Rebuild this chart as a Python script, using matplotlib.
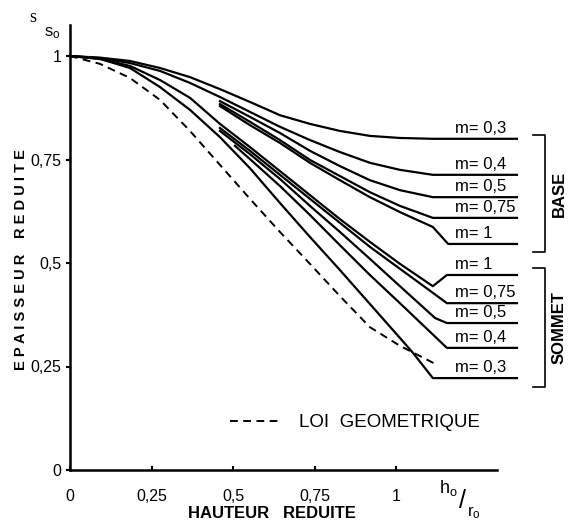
import matplotlib

matplotlib.use("Agg")
import matplotlib.pyplot as plt

plt.rcParams["font.family"] = ["Liberation Sans", "DejaVu Sans"]
plt.rcParams["mathtext.fontset"] = "custom"
plt.rcParams["mathtext.rm"] = "Liberation Sans"
plt.rcParams["mathtext.it"] = "Liberation Sans"

# courbes "BASE" (groupe du haut)
base_labels = ["m= 0,3", "m= 0,4", "m= 0,5", "m= 0,75", "m= 1"]
base_x = [
    [0, 0.092, 0.184, 0.276, 0.368, 0.460, 0.552, 0.644, 0.736, 0.828, 0.920, 1.012, 1.113],
    [0, 0.092, 0.184, 0.276, 0.368, 0.460, 0.552, 0.644, 0.736, 0.828, 0.920, 1.012, 1.113],
    [0.460, 0.552, 0.644, 0.736, 0.828, 0.920, 1.012, 1.113],
    [0.460, 0.552, 0.644, 0.736, 0.828, 0.920, 1.012, 1.113],
    [0.460, 0.552, 0.644, 0.736, 0.828, 0.920, 1.012, 1.113, 1.160],
]
base_y = [
    [1.0, 0.996, 0.988, 0.971, 0.949, 0.920, 0.889, 0.857, 0.836, 0.819, 0.807, 0.802, 0.800],
    [1.0, 0.995, 0.983, 0.964, 0.935, 0.901, 0.865, 0.829, 0.797, 0.768, 0.742, 0.725, 0.713],
    [0.891, 0.853, 0.814, 0.771, 0.734, 0.700, 0.676, 0.659],
    [0.884, 0.841, 0.797, 0.749, 0.710, 0.671, 0.638, 0.609],
    [0.879, 0.833, 0.790, 0.742, 0.700, 0.659, 0.623, 0.587, 0.546],
]

# courbes "SOMMET" (groupe du bas)
sommet_labels = ["m= 1", "m= 0,75", "m= 0,5", "m= 0,4", "m= 0,3"]
sommet_x = [
    [0, 0.092, 0.184, 0.276, 0.368, 0.460, 0.552, 0.644, 0.736, 0.828, 0.920, 1.012, 1.113, 1.156],
    [0.460, 0.552, 0.644, 0.736, 0.828, 0.920, 1.012, 1.113, 1.156],
    [0.460, 0.552, 0.644, 0.736, 0.828, 0.920, 1.012, 1.120, 1.156],
    [0.506, 0.552, 0.644, 0.736, 0.828, 0.920, 1.012, 1.156],
    [0, 0.092, 0.184, 0.276, 0.368, 0.460, 0.552, 0.644, 0.736, 0.828, 0.920, 1.012, 1.052, 1.113],
]
sommet_y = [
    [1.0, 0.993, 0.976, 0.942, 0.899, 0.836, 0.780, 0.722, 0.664, 0.606, 0.551, 0.498, 0.444, 0.471],
    [0.826, 0.771, 0.713, 0.655, 0.597, 0.539, 0.486, 0.428, 0.403],
    [0.819, 0.763, 0.703, 0.638, 0.575, 0.510, 0.444, 0.367, 0.355],
    [0.783, 0.751, 0.686, 0.616, 0.543, 0.471, 0.403, 0.295],
    [1.0, 0.993, 0.971, 0.925, 0.870, 0.804, 0.729, 0.645, 0.563, 0.483, 0.401, 0.319, 0.283, 0.222],
]

# loi geometrique (tirets)
geo_x = [0, 0.092, 0.184, 0.276, 0.368, 0.460, 0.552, 0.644, 0.736, 0.828, 0.920, 1.012, 1.126]
geo_y = [1.0, 0.981, 0.947, 0.894, 0.819, 0.737, 0.655, 0.575, 0.498, 0.420, 0.345, 0.300, 0.254]

x_ticks = [0, 0.25, 0.5, 0.75, 1]
x_tick_labels = ["0", "0,25", "0,5", "0,75", "1"]
y_ticks = [0, 0.25, 0.5, 0.75, 1]
y_tick_labels = ["0", "0,25", "0,5", "0,75", "1"]

LINE_END = 1.371
LABEL_X = 1.18
DASHES = (0, (4, 2.8))

figure = plt.figure(figsize=(5.75, 5.23), dpi=100)
axis = figure.add_axes([70 / 575, 53 / 523, 1.55 * 326 / 575, 1.1 * 414 / 523])
axis.set_xlim(0, 1.55)
axis.set_ylim(0, 1.1)

for labels, xs_all, ys_all in ((base_labels, base_x, base_y), (sommet_labels, sommet_x, sommet_y)):
    for label, xs, ys in zip(labels, xs_all, ys_all):
        axis.plot(xs + [LINE_END], ys + [ys[-1]], color="black", linewidth=1.6,
                  solid_joinstyle="round", clip_on=False)
        axis.annotate(label, (LABEL_X, ys[-1]), xytext=(0, 2), textcoords="offset points",
                      va="bottom", ha="left", fontsize=12)

geo_line, = axis.plot(geo_x, geo_y, color="black", linewidth=1.4, linestyle=DASHES)

# accolades BASE / SOMMET
for top, bottom, name in ((0.809, 0.527, "BASE"), (0.488, 0.200, "SOMMET")):
    axis.plot([1.42, 1.457, 1.457, 1.42], [top, top, bottom, bottom], color="black",
              linewidth=1.2, clip_on=False)
    axis.text(1.50, (top + bottom) / 2, name, rotation=90, va="center", ha="center",
              fontsize=12, fontweight="bold")

axis.legend([geo_line], ["LOI  GEOMETRIQUE"], loc="center left", frameon=False,
            bbox_to_anchor=(0.49, 0.114), bbox_transform=axis.transData,
            borderpad=0, borderaxespad=0, handlelength=2.6, handletextpad=1.1,
            fontsize=13.5)

for side in ("top", "right"):
    axis.spines[side].set_visible(False)
axis.spines["left"].set_bounds(0, 1.075)
axis.spines["bottom"].set_bounds(0, 1.31)
axis.spines["left"].set_linewidth(1.8)
axis.spines["bottom"].set_linewidth(1.8)

axis.set_xticks(x_ticks, x_tick_labels, fontsize=11.5)
axis.set_yticks(y_ticks, y_tick_labels, fontsize=11.5)
axis.tick_params(axis="x", direction="in", length=3, width=1.5, pad=14)
axis.tick_params(axis="y", direction="out", length=3, width=1.5, pad=3)

# h0 / r0 en bout d'axe
axis.text(1.160, -0.044, r"h$_o$", fontsize=13, ha="center", va="center", clip_on=False)
axis.text(1.203, -0.075, "/", fontsize=18, ha="center", va="center", clip_on=False)
axis.text(1.240, -0.102, r"r$_o$", fontsize=12, ha="center", va="center", clip_on=False)

figure.text(272 / 575, 1 - 513 / 523, "HAUTEUR   REDUITE", ha="center",
            va="center", fontsize=12, fontweight="bold")
figure.text(21 / 575, 1 - 194 / 523, "R E D U I T E", rotation=90, ha="center",
            va="center", fontsize=10.5, fontweight="bold")
figure.text(21 / 575, 1 - 312 / 523, "E P A I S S E U R", rotation=90, ha="center",
            va="center", fontsize=10.5, fontweight="bold")
figure.text(33 / 575, 1 - 17 / 523, "s", family="Liberation Serif", fontsize=13,
            ha="center", va="center")
figure.text(52 / 575, 1 - 33 / 523, r"s$_{o}$", fontsize=12, ha="center", va="center")

figure.savefig("out.png", dpi=100)
